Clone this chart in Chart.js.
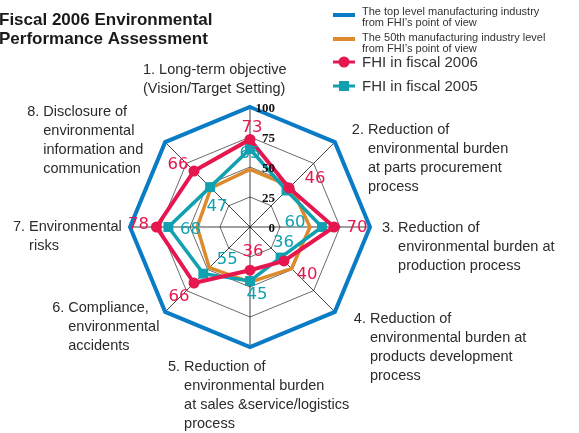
<!DOCTYPE html>
<html lang="en">
<head>
  <meta charset="UTF-8">
  <title>Fiscal 2006 Environmental Performance Assessment</title>
  <script src="https://cdn.jsdelivr.net/npm/chart.js"></script>
  <style>
    body { margin: 0; background: #fff; }
    #wrap { position: relative; width: 579px; height: 433px; }
  </style>
</head>
<body>
<div id="wrap"><canvas id="chart" width="579" height="433"></canvas></div>

<script>
  // categories (first line carries the number, the rest are hanging lines)
  const categories = [
    ['1. Long-term objective', '(Vision/Target Setting)'],
    ['2. Reduction of', 'environmental burden', 'at parts procurement', 'process'],
    ['3. Reduction of', 'environmental burden at', 'production process'],
    ['4. Reduction of', 'environmental burden at', 'products development', 'process'],
    ['5. Reduction of', 'environmental burden', 'at sales &service/logistics', 'process'],
    ['6. Compliance,', 'environmental', 'accidents'],
    ['7. Environmental', 'risks'],
    ['8. Disclosure of', 'environmental', 'information and', 'communication']
  ];

  const seriesNames = [
    'The top level manufacturing industry from FHI\u2019s point of view',
    'The 50th manufacturing industry level from FHI\u2019s point of view',
    'FHI in fiscal 2006',
    'FHI in fiscal 2005'
  ];

  const topLevel = [100, 100, 100, 100, 100, 100, 100, 100];
  const level50th = [48, 48, 50, 49, 46, 48, 44, 46];
  const fhi2006 = [73, 46, 70, 40, 36, 66, 78, 66];
  const fhi2005 = [65, 43, 60, 36, 45, 55, 68, 47];

  // which value labels are printed in the picture
  const labels2006 = ['73', '46', '70', '40', '36', '66', '78', '66'];
  const labels2005 = ['65', '', '60', '36', '45', '55', '68', '47'];

  const tickValues = [0, 25, 50, 75, 100];

  // colours
  const BLUE = '#0a7cc6';
  const ORANGE = '#dc8a2c';
  const RED = '#e6174f';
  const TEAL = '#10a0b0';

  // offsets of the printed numbers from their points
  const off2006 = [[2, -12], [26, -9], [23, 1], [23, 14], [3, -18], [-15, 14], [-18, -2], [-16, -6]];
  const off2005 = [[0, 5], [0, 0], [-27, -4], [3, -15], [7, 14], [24, -14], [22, 3], [7, 20]];

  // first line anchor of each category, relative to the outer (100) vertex
  const catOff = [[-107, -37], [17, -12], [12, 1], [19, 7], [-82, 20], [-113, -4], [-117, 0], [-138, -30]];

  const textPlugin = {
    id: 'texts',
    afterDatasetsDraw(chart) {
      const ctx = chart.ctx;
      const r = chart.scales.r;
      ctx.save();

      // tick numbers
      ctx.font = 'bold 13px "Liberation Serif"';
      ctx.fillStyle = '#111';
      ctx.textAlign = 'right';
      ctx.textBaseline = 'middle';
      tickValues.forEach(v => {
        const d = r.getDistanceFromCenterForValue(v);
        ctx.fillText(String(v), r.xCenter + 25, r.yCenter - d + 2);
      });

      // value numbers
      ctx.font = '16.5px "DejaVu Sans"';
      ctx.textAlign = 'center';
      ctx.textBaseline = 'middle';
      fhi2005.forEach((v, i) => {
        if (!labels2005[i]) return;
        const p = r.getPointPositionForValue(i, v);
        ctx.fillStyle = TEAL;
        ctx.fillText(labels2005[i], p.x + off2005[i][0], p.y + off2005[i][1]);
      });
      fhi2006.forEach((v, i) => {
        const p = r.getPointPositionForValue(i, v);
        ctx.fillStyle = RED;
        ctx.fillText(labels2006[i], p.x + off2006[i][0], p.y + off2006[i][1]);
      });

      // category labels
      ctx.font = '14.5px "Liberation Sans"';
      ctx.fillStyle = '#2b2b2b';
      ctx.textAlign = 'left';
      categories.forEach((lines, i) => {
        const p = r.getPointPositionForValue(i, 100);
        const x = p.x + catOff[i][0];
        const y = p.y + catOff[i][1];
        const indent = i === 0 ? 0 : ctx.measureText(lines[0].split(' ')[0] + ' ').width;
        lines.forEach((t, k) => {
          ctx.fillText(t, k === 0 ? x : x + indent, y + k * 19);
        });
      });

      // title
      ctx.font = 'bold 17px "Liberation Sans"';
      ctx.fillStyle = '#1a1a1a';
      ctx.fillText('Fiscal 2006 Environmental', -1, 20);
      ctx.fillText('Performance Assessment', -1, 39);

      // legend
      const lx = 333, lw = 22, tx = 362;
      ctx.lineWidth = 4;
      ctx.strokeStyle = BLUE;
      ctx.beginPath(); ctx.moveTo(lx, 15); ctx.lineTo(lx + lw, 15); ctx.stroke();
      ctx.strokeStyle = ORANGE;
      ctx.beginPath(); ctx.moveTo(lx, 39); ctx.lineTo(lx + lw, 39); ctx.stroke();
      ctx.lineWidth = 3;
      ctx.strokeStyle = RED;
      ctx.beginPath(); ctx.moveTo(lx, 62); ctx.lineTo(lx + lw, 62); ctx.stroke();
      ctx.fillStyle = RED;
      ctx.beginPath(); ctx.arc(lx + lw / 2, 62, 5.5, 0, Math.PI * 2); ctx.fill();
      ctx.strokeStyle = TEAL;
      ctx.beginPath(); ctx.moveTo(lx, 86); ctx.lineTo(lx + lw, 86); ctx.stroke();
      ctx.fillStyle = TEAL;
      ctx.fillRect(lx + lw / 2 - 5, 81, 10, 10);

      ctx.fillStyle = '#333';
      ctx.font = '11px "Liberation Sans"';
      ctx.fillText('The top level manufacturing industry', tx, 12);
      ctx.fillText('from FHI\u2019s point of view', tx, 23);
      ctx.fillText('The 50th manufacturing industry level', tx, 38);
      ctx.fillText('from FHI\u2019s point of view', tx, 49);
      ctx.font = '15px "Liberation Sans"';
      ctx.fillText(seriesNames[2], tx, 63);
      ctx.fillText(seriesNames[3], tx, 87);

      ctx.restore();
    }
  };

  const ctx = document.getElementById('chart').getContext('2d');

  const chart = new Chart(ctx, {
    type: 'radar',
    data: {
      labels: categories.map(c => c.join(' ')),
      datasets: [
        {
          label: seriesNames[0],
          data: topLevel,
          borderColor: BLUE,
          borderWidth: 4,
          pointRadius: 0,
          fill: false,
          order: 1
        },
        {
          label: seriesNames[1],
          data: level50th,
          borderColor: ORANGE,
          borderWidth: 3.5,
          pointRadius: 0,
          fill: false,
          order: 4
        },
        {
          label: seriesNames[2],
          data: fhi2006,
          borderColor: RED,
          backgroundColor: RED,
          borderWidth: 4,
          pointStyle: 'circle',
          pointRadius: 5.5,
          pointBorderWidth: 0,
          pointBackgroundColor: RED,
          fill: false,
          order: 2
        },
        {
          label: seriesNames[3],
          data: fhi2005,
          borderColor: TEAL,
          backgroundColor: TEAL,
          borderWidth: 3.5,
          pointStyle: 'rect',
          pointRadius: 7,
          pointBorderWidth: 0,
          pointBackgroundColor: TEAL,
          fill: false,
          order: 3
        }
      ]
    },
    options: {
      responsive: false,
      animation: false,
      layout: { padding: { left: 130, right: 209, top: 107, bottom: 86 } },
      elements: { line: { tension: 0 } },
      plugins: {
        legend: { display: false },
        title: { display: false },
        tooltip: { enabled: false }
      },
      scales: {
        r: {
          min: 0,
          max: 100,
          ticks: { stepSize: 25, display: false },
          grid: { color: '#6a6a6a', lineWidth: 1 },
          angleLines: { color: '#111', lineWidth: 0.8 },
          pointLabels: { display: false }
        }
      }
    },
    plugins: [textPlugin]
  });
</script>
</body>
</html>
